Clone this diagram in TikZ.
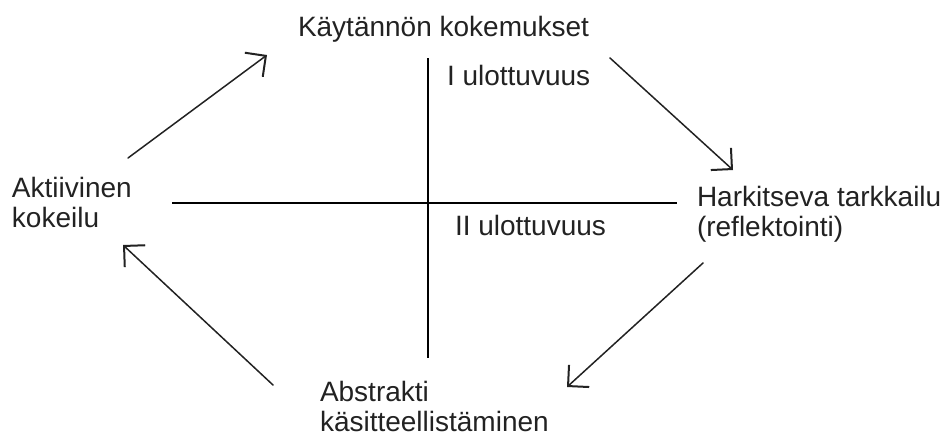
\documentclass[tikz,border=0pt]{standalone}
\usepackage{fontspec}
\setmainfont{Liberation Sans}
\usetikzlibrary{arrows.meta}
\definecolor{ink}{HTML}{222222}
\tikzset{
  lbl/.style={inner sep=0pt, outer sep=0pt, anchor=base west, align=left, text=ink,
    font=\fontsize{28}{30}\selectfont},
  axis/.style={draw=black, line width=1.4pt},
  flow/.style={draw=ink, line width=1.5pt, line cap=round,
    -{Straight Barb[length=15pt,width=30pt,line width=2pt]}}
}
\begin{document}
\begin{tikzpicture}[x=1pt,y=-1pt]
\useasboundingbox (0,0) rectangle (945,437);
% texts (multi-line nodes anchored at the baseline of their last line)
\node[lbl] (kok) at (298,36) {Käytännön kokemukset};
\node[lbl] (u1) at (447,85) {I ulottuvuus};
\node[lbl] (u2) at (455,235) {II ulottuvuus};
\node[lbl] (akt) at (12,227) {Aktiivinen\\kokeilu};
\node[lbl] (har) at (697,236) {Harkitseva tarkkailu\\(reflektointi)};
\node[lbl] (abs) at (320,431) {Abstrakti\\käsitteellistäminen};
% axes
\coordinate (vt) at (428,58);
\coordinate (vb) at (428,358);
\coordinate (hl) at (172,203);
\coordinate (hr) at (677,203);
\draw[axis] (vt) -- (vb);
\draw[axis] (hl) -- (hr);
% arrows
\coordinate (a1s) at (128,158); \coordinate (a1e) at (267,55);
\coordinate (a2s) at (610,58);  \coordinate (a2e) at (733,170);
\coordinate (a3s) at (703,263); \coordinate (a3e) at (567,387);
\coordinate (a4s) at (273,385); \coordinate (a4e) at (123,245);
\draw[flow] (a1s) -- (a1e);
\draw[flow] (a2s) -- (a2e);
\draw[flow] (a3s) -- (a3e);
\draw[flow] (a4s) -- (a4e);
\end{tikzpicture}
\end{document}
